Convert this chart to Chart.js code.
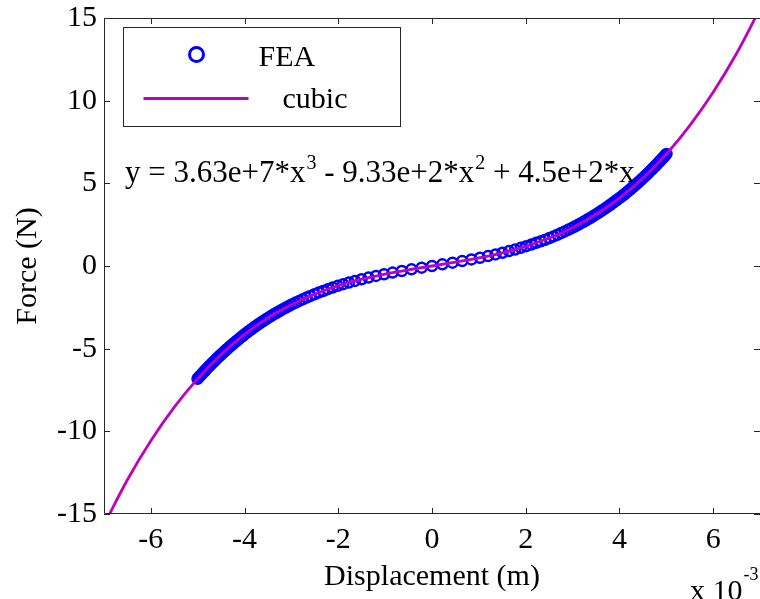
<!DOCTYPE html>
<html>
<head>
<meta charset="utf-8">
<script src="https://cdn.jsdelivr.net/npm/chart.js@4.4.1/dist/chart.umd.min.js"></script>
<style>
  html, body { margin: 0; padding: 0; background: #ffffff; overflow: hidden; }
  #wrap { width: 760px; height: 599px; }
</style>
</head>
<body>
<div id="wrap"><canvas id="fd-chart" width="760" height="599"></canvas></div>
<script>
// FEA samples, displacement in units of 1e-3 m, force in N
const feaDisp = [
  -5.004, -4.972, -4.940, -4.908, -4.875, -4.842, -4.809, -4.775, -4.740, -4.706, -4.671, -4.635,
  -4.599, -4.562, -4.525, -4.488, -4.450, -4.411, -4.372, -4.332, -4.291, -4.250, -4.209, -4.166,
  -4.123, -4.079, -4.035, -3.989, -3.943, -3.896, -3.848, -3.799, -3.749, -3.698, -3.646, -3.593,
  -3.538, -3.482, -3.425, -3.367, -3.306, -3.245, -3.181, -3.116, -3.048, -2.979, -2.907, -2.833,
  -2.756, -2.676, -2.593, -2.507, -2.417, -2.323, -2.224, -2.120, -2.011, -1.895, -1.773, -1.643,
  -1.504, -1.355, -1.196, -1.024, -0.841, -0.645, -0.438, -0.221, 0,
  0.221, 0.438, 0.645, 0.841, 1.024, 1.196, 1.355, 1.504, 1.643, 1.773, 1.895, 2.011,
  2.120, 2.224, 2.323, 2.417, 2.507, 2.593, 2.676, 2.756, 2.833, 2.907, 2.979, 3.048,
  3.116, 3.181, 3.245, 3.306, 3.367, 3.425, 3.482, 3.538, 3.593, 3.646, 3.698, 3.749,
  3.799, 3.848, 3.896, 3.943, 3.989, 4.035, 4.079, 4.123, 4.166, 4.209, 4.250, 4.291,
  4.332, 4.372, 4.411, 4.450, 4.488, 4.525, 4.562, 4.599, 4.635, 4.671, 4.706, 4.740,
  4.775, 4.809, 4.842, 4.875, 4.908, 4.940, 4.972, 5.004
];
const feaForce = [
  -6.82, -6.72, -6.62, -6.52, -6.42, -6.32, -6.22, -6.12, -6.02, -5.92, -5.82, -5.72,
  -5.62, -5.52, -5.42, -5.32, -5.22, -5.12, -5.02, -4.92, -4.82, -4.72, -4.62, -4.52,
  -4.42, -4.32, -4.22, -4.11, -4.01, -3.91, -3.81, -3.71, -3.61, -3.51, -3.41, -3.31,
  -3.21, -3.11, -3.01, -2.91, -2.81, -2.71, -2.61, -2.51, -2.41, -2.31, -2.21, -2.11,
  -2.01, -1.91, -1.81, -1.71, -1.61, -1.51, -1.40, -1.30, -1.20, -1.10, -1.00, -0.90,
  -0.80, -0.70, -0.60, -0.50, -0.40, -0.30, -0.20, -0.10, 0,
  0.10, 0.20, 0.30, 0.40, 0.50, 0.60, 0.70, 0.80, 0.90, 1.00, 1.10, 1.20,
  1.30, 1.40, 1.49, 1.59, 1.69, 1.79, 1.89, 1.99, 2.09, 2.19, 2.29, 2.39,
  2.49, 2.59, 2.69, 2.79, 2.89, 2.99, 3.09, 3.19, 3.29, 3.39, 3.49, 3.59,
  3.69, 3.79, 3.89, 3.99, 4.09, 4.18, 4.28, 4.38, 4.48, 4.58, 4.68, 4.78,
  4.88, 4.98, 5.08, 5.18, 5.28, 5.38, 5.48, 5.58, 5.68, 5.78, 5.88, 5.98,
  6.08, 6.18, 6.28, 6.38, 6.48, 6.58, 6.68, 6.78
];

// cubic fit curve
const fitDisp = [
  -7, -6.5, -6, -5.5, -5, -4.5, -4, -3.5, -3, -2.5, -2, -1.5, -1, -0.5, 0,
  0.5, 1, 1.5, 2, 2.5, 3, 3.5, 4, 4.5, 5, 5.5, 6, 6.5, 7
];
const fitForce = [
  -15.65, -12.93, -10.57, -8.54, -6.81, -5.35, -4.14, -3.14, -2.34, -1.70, -1.19, -0.80, -0.49, -0.23, 0,
  0.23, 0.49, 0.80, 1.19, 1.69, 2.32, 3.12, 4.11, 5.31, 6.76, 8.49, 10.51, 12.85, 15.56
];

const xTicks = [-6, -4, -2, 0, 2, 4, 6];
const yTicks = [-15, -10, -5, 0, 5, 10, 15];

const seriesLabels = ['FEA', 'cubic'];
const eqParts = [['y = 3.63e+7*x', '3'], [' - 9.33e+2*x', '2'], [' + 4.5e+2*x', '']];

const SERIF = "'Liberation Serif', 'Times New Roman', serif";
const AXIS_COLOR = '#262626';

// inward tick marks and closed box, MATLAB style
const frameTicks = {
  id: 'frameTicks',
  afterDatasetsDraw(chart) {
    const { ctx, chartArea: a, scales } = chart;
    const len = 6;
    ctx.save();
    ctx.strokeStyle = AXIS_COLOR;
    ctx.lineWidth = 1;
    ctx.beginPath();
    ctx.rect(a.left + 0.5, a.top + 0.5, a.right - a.left, a.bottom - a.top - 1);
    scales.x.ticks.forEach(t => {
      const px = Math.round(scales.x.getPixelForValue(t.value)) + 0.5;
      ctx.moveTo(px, a.bottom); ctx.lineTo(px, a.bottom - len);
      ctx.moveTo(px, a.top); ctx.lineTo(px, a.top + len);
    });
    scales.y.ticks.forEach(t => {
      const py = Math.round(scales.y.getPixelForValue(t.value)) + 0.5;
      ctx.moveTo(a.left, py); ctx.lineTo(a.left + len, py);
      ctx.moveTo(a.right, py); ctx.lineTo(a.right - len, py);
    });
    ctx.stroke();
    ctx.restore();
  }
};

// boxed legend in the upper left corner
const boxLegend = {
  id: 'boxLegend',
  afterDraw(chart) {
    const { ctx, chartArea: a } = chart;
    const ds = chart.data.datasets;
    const bx = a.left + 19.5, by = a.top + 9.5, bw = 277, bh = 99;
    ctx.save();
    ctx.fillStyle = '#ffffff';
    ctx.fillRect(bx, by, bw, bh);
    ctx.strokeStyle = AXIS_COLOR;
    ctx.lineWidth = 1;
    ctx.strokeRect(bx, by, bw, bh);

    ctx.font = '30px ' + SERIF;
    ctx.fillStyle = '#000000';
    ctx.textBaseline = 'alphabetic';

    // FEA marker
    ctx.beginPath();
    ctx.arc(bx + 73, by + 27, 7, 0, Math.PI * 2);
    ctx.strokeStyle = ds[0].borderColor;
    ctx.lineWidth = 3;
    ctx.stroke();
    ctx.fillText(ds[0].label, bx + 135, by + 38);

    // cubic line
    ctx.beginPath();
    ctx.moveTo(bx + 20, by + 71);
    ctx.lineTo(bx + 125, by + 71);
    ctx.strokeStyle = ds[1].borderColor;
    ctx.lineWidth = 3;
    ctx.stroke();
    ctx.fillText(ds[1].label, bx + 159, by + 80);
    ctx.restore();
  }
};

// equation text and axis multiplier with superscripts
const annotations = {
  id: 'annotations',
  afterDraw(chart) {
    const { ctx, chartArea: a } = chart;
    const big = '31px ' + SERIF, small = '20px ' + SERIF;
    ctx.save();
    ctx.fillStyle = '#000000';
    ctx.textBaseline = 'alphabetic';
    let x = a.left + 21;
    const base = a.top + 164;
    eqParts.forEach(([txt, sup]) => {
      ctx.font = big;
      ctx.fillText(txt, x, base);
      x += ctx.measureText(txt).width;
      if (sup) {
        ctx.font = small;
        ctx.fillText(sup, x + 1, base - 13);
        x += ctx.measureText(sup).width + 1;
      }
    });

    // x-axis multiplier, bottom right
    ctx.font = '30px ' + SERIF;
    ctx.fillText('x 10', 690, 600);
    const w = ctx.measureText('x 10').width;
    ctx.font = '18px ' + SERIF;
    ctx.fillText('-3', 690 + w + 1, 580);
    ctx.restore();
  }
};

const ctx = document.getElementById('fd-chart').getContext('2d');

new Chart(ctx, {
  type: 'scatter',
  data: {
    datasets: [
      {
        label: seriesLabels[0],
        data: feaDisp.map((d, i) => ({ x: d, y: feaForce[i] })),
        showLine: false,
        pointStyle: 'circle',
        pointRadius: 5,
        pointBorderWidth: 2.5,
        borderColor: '#0000ff',
        backgroundColor: 'rgba(0,0,0,0)',
        pointHoverRadius: 5,
        order: 2
      },
      {
        label: seriesLabels[1],
        data: fitDisp.map((d, i) => ({ x: d, y: fitForce[i] })),
        showLine: true,
        pointRadius: 0,
        pointHoverRadius: 0,
        borderColor: '#c000c0',
        borderWidth: 2.8,
        cubicInterpolationMode: 'monotone',
        fill: false,
        order: 1
      }
    ]
  },
  options: {
    responsive: false,
    animation: false,
    devicePixelRatio: 1,
    layout: {
      autoPadding: false,
      padding: { left: 0, right: 0, top: 18, bottom: 0 }
    },
    plugins: {
      legend: { display: false },
      tooltip: { enabled: false }
    },
    scales: {
      x: {
        type: 'linear',
        min: -7,
        max: 7,
        afterBuildTicks: scale => { scale.ticks = xTicks.map(v => ({ value: v })); },
        afterFit: scale => {
          scale.height = 85;
          scale.paddingLeft = 0;
          scale.paddingRight = 0;
        },
        grid: { display: false, drawTicks: false },
        border: { display: false },
        ticks: {
          color: '#000000',
          font: { family: SERIF, size: 30 },
          padding: 8,
          maxRotation: 0,
          autoSkip: false
        },
        title: {
          display: true,
          text: 'Displacement (m)',
          color: '#000000',
          font: { family: SERIF, size: 30, lineHeight: 1.2 },
          padding: { top: 0, bottom: 4 }
        }
      },
      y: {
        type: 'linear',
        min: -15,
        max: 15,
        afterBuildTicks: scale => { scale.ticks = yTicks.map(v => ({ value: v })); },
        afterFit: scale => {
          scale.width = 104;
          scale.paddingTop = 0;
          scale.paddingBottom = 0;
        },
        grid: { display: false, drawTicks: false },
        border: { display: false },
        ticks: {
          color: '#000000',
          font: { family: SERIF, size: 30 },
          padding: 7,
          autoSkip: false
        },
        title: {
          display: true,
          text: 'Force (N)',
          color: '#000000',
          font: { family: SERIF, size: 30, lineHeight: 1.2 },
          padding: { top: 10, bottom: 0 }
        }
      }
    }
  },
  plugins: [frameTicks, boxLegend, annotations]
});
</script>
</body>
</html>
